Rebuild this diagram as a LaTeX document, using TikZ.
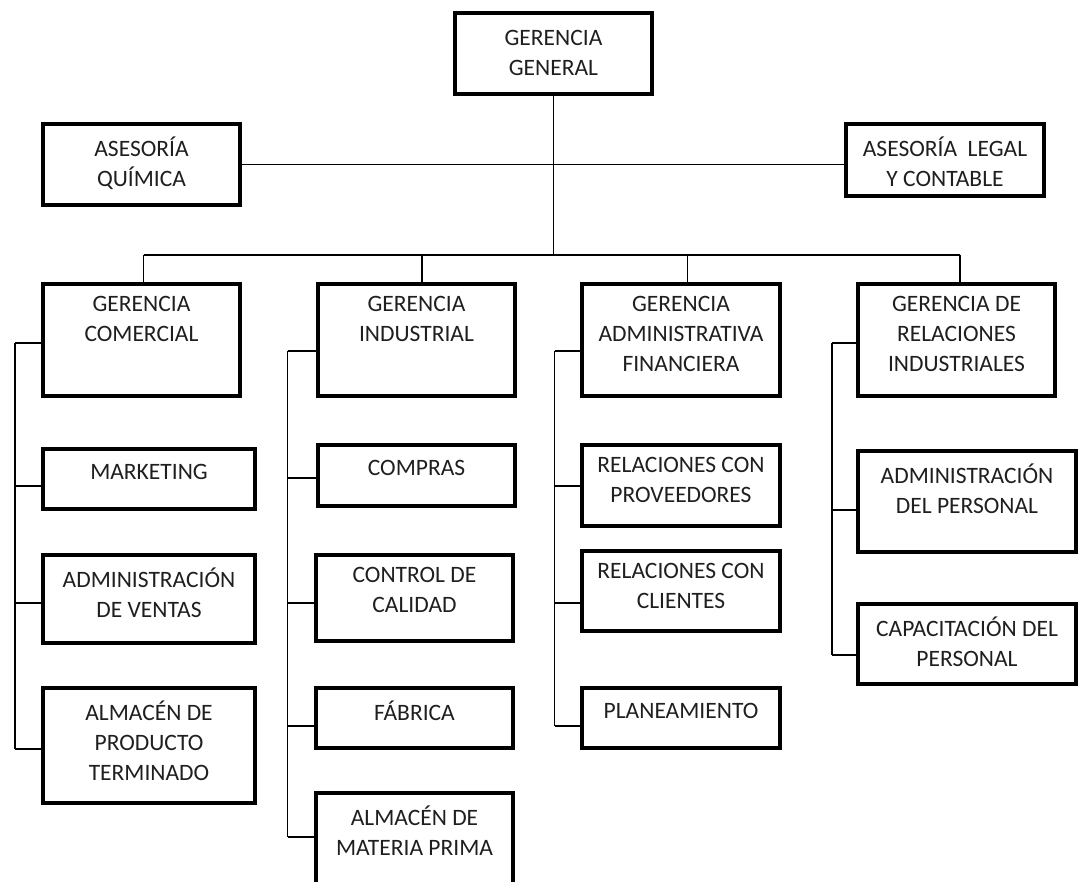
\documentclass[tikz,border=0pt]{standalone}
\usepackage{fontspec}
\setmainfont{Carlito}
\newcommand\orgbox[7][0]{%
  \node[box, minimum width={(#5)-(#3)}, minimum height={(#6)-(#4)}] (#2) at ({((#3)+(#5))/2},{((#4)+(#6))/2}) {};
  \node[lbl, yshift={-14pt-(#1)*1pt}] (#2t) at (#2.north) {#7};
}
\begin{document}
\begin{tikzpicture}[x=1pt,y=-1pt,
  box/.style={draw=black, line width=3.2pt, inner sep=0pt},
  lbl/.style={align=center, inner sep=0pt, anchor=north, text=black!88,
    font=\fontsize{23.5}{30}\selectfont, execute at begin node=\rule{0pt}{18pt}},
  conn/.style={line width=1.4pt, draw=black}]
\useasboundingbox (0,0) rectangle (1079,882);
\clip (0,0) rectangle (1079,882);
\fill[white] (0,0) rectangle (1079,882);

% boxes
\orgbox[5]{gg}{455}{13}{652}{94}{GERENCIA\\GENERAL}
\orgbox{aq}{43}{124}{240}{205}{ASESORÍA\\QUÍMICA}
\orgbox{alc}{846}{124}{1044}{196}{ASESORÍA\ \ LEGAL\\Y CONTABLE}
\orgbox{gc}{43}{284}{240}{396}{GERENCIA\\COMERCIAL}
\orgbox{gi}{318}{284}{515}{396}{GERENCIA\\INDUSTRIAL}
\orgbox{gaf}{582}{284}{780}{396}{GERENCIA\\ADMINISTRATIVA\\FINANCIERA}
\orgbox{gri}{858}{284}{1055}{396}{GERENCIA DE\\RELACIONES\\INDUSTRIALES}
\orgbox{mkt}{43}{449}{255}{509}{MARKETING}
\orgbox{adv}{43}{555}{255}{643}{ADMINISTRACIÓN\\DE VENTAS}
\orgbox{apt}{43}{688}{255}{803}{ALMACÉN DE\\PRODUCTO\\TERMINADO}
\orgbox{com}{318}{445}{515}{506}{COMPRAS}
\orgbox{cdc}{316}{555}{513}{641}{CONTROL DE\\CALIDAD}
\orgbox{fab}{316}{688}{513}{748}{FÁBRICA}
\orgbox{amp}{316}{793}{513}{900}{ALMACÉN DE\\MATERIA PRIMA}
\orgbox{rcp}{582}{445}{780}{526}{RELACIONES CON\\PROVEEDORES}
\orgbox{rcc}{582}{551}{780}{631}{RELACIONES CON\\CLIENTES}
\orgbox{pla}{582}{688}{780}{748}{PLANEAMIENTO}
\orgbox{adp}{858}{451}{1076}{552}{ADMINISTRACIÓN\\DEL PERSONAL}
\orgbox{cdp}{858}{604}{1076}{684}{CAPACITACIÓN DEL\\PERSONAL}

% top level
\coordinate (bus) at (553.5,255);
\coordinate (b1) at (143.6,255);
\coordinate (b2) at (421.8,255);
\coordinate (b3) at (687.4,255);
\coordinate (b4) at (960,255);
\draw[conn] (gg.south) -- (gg.south |- bus);
\draw[conn] (aq.east) -- (aq.east -| alc.west);
\draw[conn] (b1) -- (b4);
\draw[conn] (b1) -- (b1 |- gc.north);
\draw[conn] (b2) -- (b2 |- gi.north);
\draw[conn] (b3) -- (b3 |- gaf.north);
\draw[conn] (b4) -- (b4 |- gri.north);

% column 1
\coordinate (j1a) at (14.8,343);
\coordinate (j1b) at (14.8,486);
\coordinate (j1c) at (14.8,603);
\coordinate (j1d) at (14.8,749);
\draw[conn] (j1a) -- (j1d);
\draw[conn] (j1a) -- (j1a -| gc.west);
\draw[conn] (j1b) -- (j1b -| mkt.west);
\draw[conn] (j1c) -- (j1c -| adv.west);
\draw[conn] (j1d) -- (j1d -| apt.west);

% column 2
\coordinate (j2a) at (287.5,351);
\coordinate (j2b) at (287.5,478);
\coordinate (j2c) at (287.5,603);
\coordinate (j2d) at (287.5,726);
\coordinate (j2e) at (287.5,837);
\draw[conn] (j2a) -- (j2e);
\draw[conn] (j2a) -- (j2a -| gi.west);
\draw[conn] (j2b) -- (j2b -| com.west);
\draw[conn] (j2c) -- (j2c -| cdc.west);
\draw[conn] (j2d) -- (j2d -| fab.west);
\draw[conn] (j2e) -- (j2e -| amp.west);

% column 3
\coordinate (j3a) at (554.5,351);
\coordinate (j3b) at (554.5,486);
\coordinate (j3c) at (554.5,603);
\coordinate (j3d) at (554.5,726);
\draw[conn] (j3a) -- (j3d);
\draw[conn] (j3a) -- (j3a -| gaf.west);
\draw[conn] (j3b) -- (j3b -| rcp.west);
\draw[conn] (j3c) -- (j3c -| rcc.west);
\draw[conn] (j3d) -- (j3d -| pla.west);

% column 4
\coordinate (j4a) at (832,343);
\coordinate (j4b) at (832,510);
\coordinate (j4c) at (832,655);
\draw[conn] (j4a) -- (j4c);
\draw[conn] (j4a) -- (j4a -| gri.west);
\draw[conn] (j4b) -- (j4b -| adp.west);
\draw[conn] (j4c) -- (j4c -| cdp.west);
\end{tikzpicture}
\end{document}
